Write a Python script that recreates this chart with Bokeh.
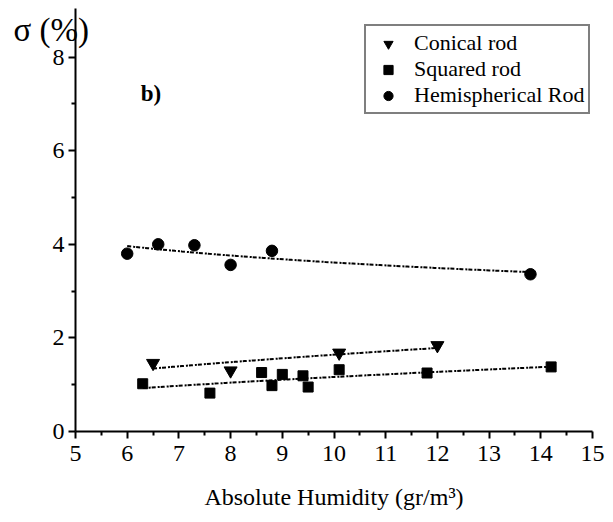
import numpy as np
from bokeh.plotting import figure
from bokeh.models import FixedTicker, Range1d, Label, Legend, LegendItem
from bokeh.embed import file_html
from bokeh.resources import INLINE

# Measured standard deviation vs. absolute humidity for three rod tips
conical_x = [6.5, 8.0, 10.1, 12.0]
conical_y = [1.46, 1.30, 1.68, 1.84]

squared_x = [6.3, 7.6, 8.6, 8.8, 9.0, 9.4, 9.5, 10.1, 11.8, 14.2]
squared_y = [1.02, 0.82, 1.26, 0.98, 1.22, 1.19, 0.95, 1.32, 1.25, 1.38]

hemi_x = [6.0, 6.6, 7.3, 8.0, 8.8, 13.8]
hemi_y = [3.80, 4.00, 3.98, 3.56, 3.86, 3.36]

x_ticks = list(range(5, 16))
y_ticks = [0, 2, 4, 6, 8]

SERIF = "Liberation Serif"
W, H = 613, 522

# The frame fills the whole canvas; the axes are pinned at x=5 / y=0 so the
# title, panel tag and legend can sit anywhere without being clipped.
X0_PX, PX_PER_X = 75.0, 51.7      # screen x of x=5, pixels per unit
Y0_PX, PX_PER_Y = 431.0, 46.8     # screen y of y=0, pixels per unit
x_range = Range1d(5 - X0_PX / PX_PER_X, 5 + (W - X0_PX) / PX_PER_X)
y_range = Range1d(-(H - Y0_PX) / PX_PER_Y, Y0_PX / PX_PER_Y)

p = figure(width=W, height=H, output_backend="svg", toolbar_location=None,
           x_range=x_range, y_range=y_range,
           min_border=0, min_border_left=0, min_border_right=0,
           min_border_top=0, min_border_bottom=0)
p.title.visible = False
p.xgrid.visible = False
p.ygrid.visible = False
p.outline_line_color = None
p.background_fill_color = "white"
p.border_fill_color = "white"


def power_fit(xs, ys):
    """Least-squares power-law trend y = a * x**b, sampled over the data span."""
    xs = np.asarray(xs, float)
    ys = np.asarray(ys, float)
    b, ln_a = np.polyfit(np.log(xs), np.log(ys), 1)
    xf = np.linspace(xs.min(), xs.max(), 60)
    return xf, np.exp(ln_a) * xf ** b


for xs, ys in [(hemi_x, hemi_y), (conical_x, conical_y), (squared_x, squared_y)]:
    fx, fy = power_fit(xs, ys)
    p.line(fx, fy, line_color="black", line_width=2, line_dash="4 2 2 1")

r_con = p.scatter(conical_x, conical_y, marker="inverted_triangle", size=13,
                  color="black")
r_sq = p.scatter(squared_x, squared_y, marker="square", size=10, color="black")
r_hemi = p.scatter(hemi_x, hemi_y, marker="circle", size=11.5, color="black")

# Axes
xa, ya = p.xaxis[0], p.yaxis[0]
xa.fixed_location = 0
ya.fixed_location = 5
xa.bounds = (5, 15)
ya.bounds = (0, 9.04)
for ax in (xa, ya):
    ax.axis_line_width = 2
    ax.axis_line_color = "black"
    ax.major_tick_line_width = 2
    ax.minor_tick_line_width = 2
    ax.major_tick_line_color = "black"
    ax.minor_tick_line_color = "black"
    ax.major_tick_in = 0
    ax.major_tick_out = 7
    ax.minor_tick_in = 0
    ax.minor_tick_out = 4
    ax.major_label_text_font = SERIF
    ax.major_label_text_font_size = "24px"
    ax.major_label_text_color = "black"

xa.ticker = FixedTicker(ticks=x_ticks,
                        minor_ticks=[t + 0.5 for t in x_ticks[:-1]])
ya.ticker = FixedTicker(ticks=y_ticks, minor_ticks=[1, 3, 5, 7])
xa.major_label_standoff = 7
ya.major_label_standoff = 4

xa.axis_label = "Absolute Humidity (gr/m\u00b3)"
xa.axis_label_text_font = SERIF
xa.axis_label_text_font_style = "normal"
xa.axis_label_text_font_size = "24px"
xa.axis_label_text_color = "black"
xa.axis_label_standoff = 20

# Y title written horizontally at the top of the axis
p.add_layout(Label(x=3.80, y=8.58, text="\u03c3 (%)", text_font=SERIF,
                   text_font_size="33px", text_baseline="alphabetic",
                   text_align="left", text_color="black"))
# Panel tag
p.add_layout(Label(x=6.26, y=7.23, text="b)", text_font=SERIF,
                   text_font_size="23px", text_font_style="bold",
                   text_baseline="alphabetic", text_align="left",
                   text_color="black"))

legend = Legend(items=[
    LegendItem(label="Conical rod", renderers=[r_con]),
    LegendItem(label="Squared rod", renderers=[r_sq]),
    LegendItem(label="Hemispherical Rod", renderers=[r_hemi]),
], location=(364, 408))
legend.label_text_font = SERIF
legend.label_text_font_size = "22px"
legend.label_text_color = "black"
legend.label_height = 23
legend.glyph_height = 23
legend.glyph_width = 36
legend.spacing = 0
legend.padding = 4
legend.margin = 0
legend.label_standoff = 8
legend.border_line_color = "black"
legend.border_line_width = 2
legend.background_fill_alpha = 1
p.add_layout(legend)

open("out.html", "w").write(file_html(p, INLINE))
